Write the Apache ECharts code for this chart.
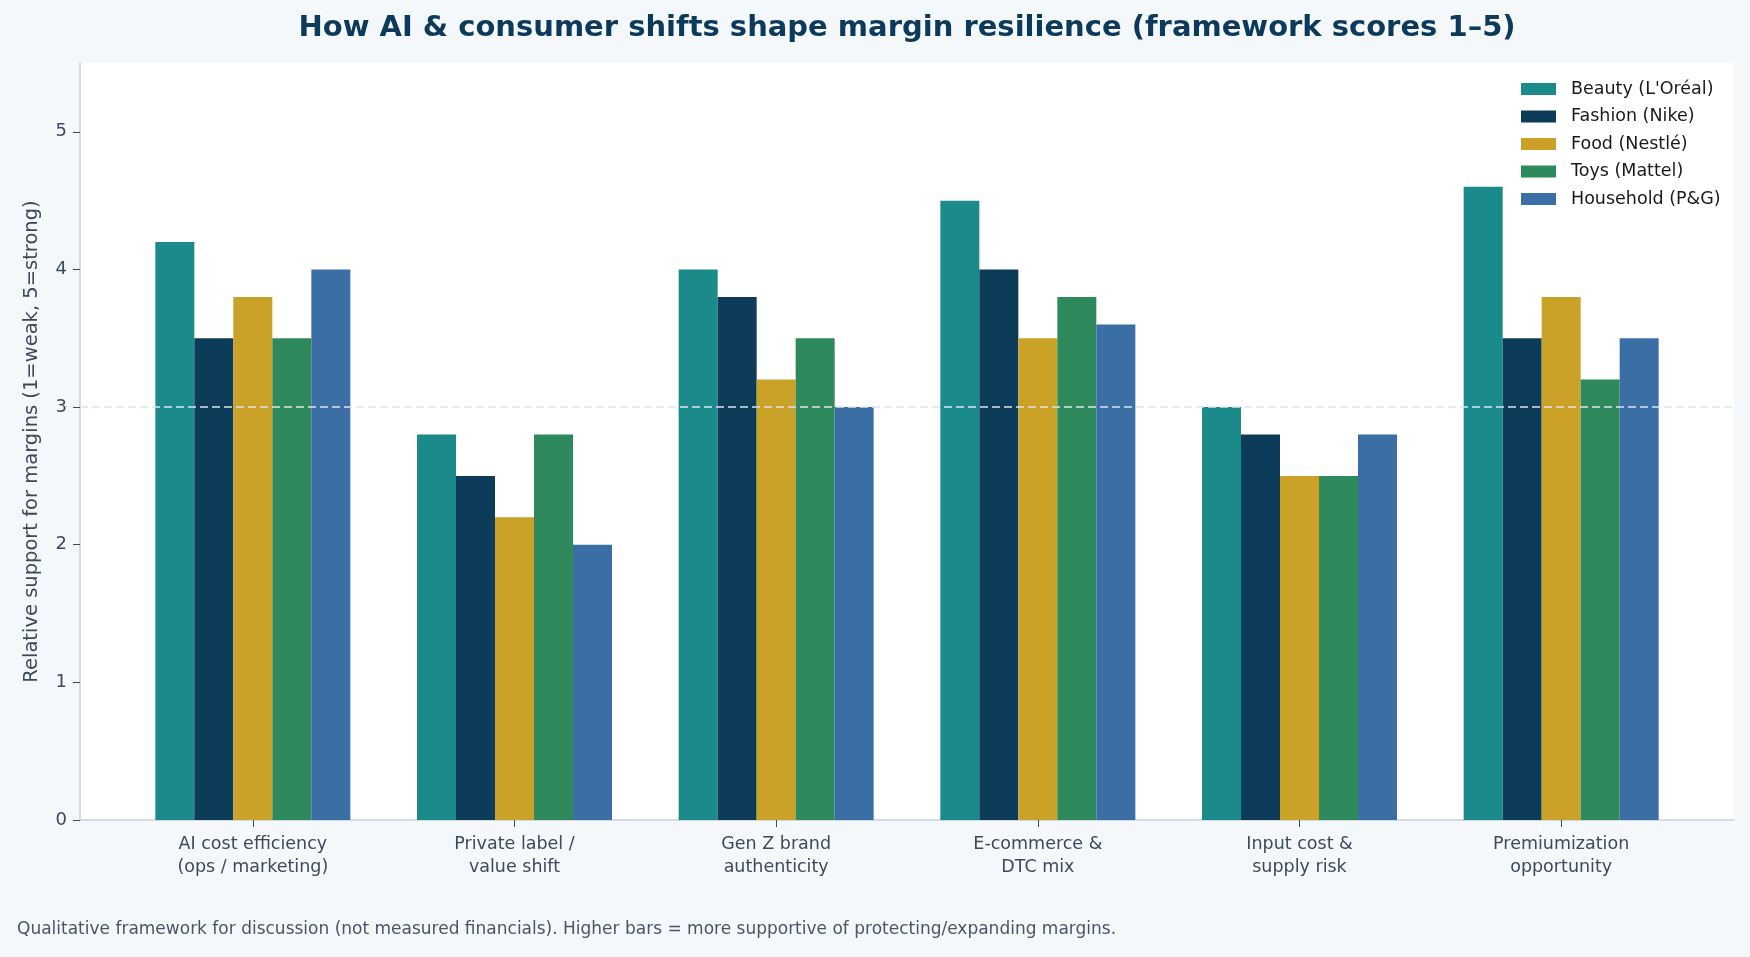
<!DOCTYPE html>
<html>
<head>
<meta charset="UTF-8">
<title>Margin resilience framework</title>
<script src="https://cdn.jsdelivr.net/npm/echarts@6/dist/echarts.min.js"></script>
<style>
html, body { margin: 0; padding: 0; background: #f5f8fb; }
#chart { width: 1750px; height: 957px; }
</style>
</head>
<body>
<div id="chart"></div>
<script>
// categories (x axis), two-line labels
var categories = [
	'AI cost efficiency\n(ops / marketing)',
	'Private label /\nvalue shift',
	'Gen Z brand\nauthenticity',
	'E-commerce &\nDTC mix',
	'Input cost &\nsupply risk',
	'Premiumization\nopportunity'
];
// framework scores per sector
var beauty    = [4.2, 2.8, 4.0, 4.5, 3.0, 4.6];
var fashion   = [3.5, 2.5, 3.8, 4.0, 2.8, 3.5];
var food      = [3.8, 2.2, 3.2, 3.5, 2.5, 3.8];
var toys      = [3.5, 2.8, 3.5, 3.8, 2.5, 3.2];
var household = [4.0, 2.0, 3.0, 3.6, 2.8, 3.5];
var seriesNames = ['Beauty (L\'Oréal)', 'Fashion (Nike)', 'Food (Nestlé)', 'Toys (Mattel)', 'Household (P&G)'];
var yTicks = [0, 1, 2, 3, 4, 5];
var refLine = 3;

var colors = ['#1b8a8a', '#0d3b5a', '#c9a227', '#2e8a5c', '#3a6ea5'];
var txt = '#3d4a5c';
var axisCol = '#c8d2e0';

var chart = echarts.init(document.getElementById('chart'));

var allData = [beauty, fashion, food, toys, household];
var barSeries = [];
for (var i = 0; i < allData.length; i++) {
	barSeries.push({
		name: seriesNames[i],
		type: 'bar',
		xAxisIndex: 1,
		yAxisIndex: 1,
		data: allData[i],
		barWidth: 39,
		barGap: '0%',
		itemStyle: { color: colors[i] },
		z: 2
	});
}

var option = {
	backgroundColor: '#f5f8fb',
	textStyle: { fontFamily: 'DejaVu Sans' },
	animation: false,
	graphic: [
		{
			type: 'text', x: 907, y: 28,
			style: {
				text: 'How AI & consumer shifts shape margin resilience (framework scores 1–5)',
				fontFamily: 'DejaVu Sans', fontSize: 29, fontWeight: 'bold',
				fill: '#0d3a5a', textAlign: 'center', textVerticalAlign: 'middle'
			}
		},
		{
			type: 'text', x: 17, y: 930,
			style: {
				text: 'Qualitative framework for discussion (not measured financials). Higher bars = more supportive of protecting/expanding margins.',
				fontFamily: 'DejaVu Sans', fontSize: 17, fill: '#4a5568',
				textAlign: 'left', textVerticalAlign: 'middle'
			}
		}
	],
	legend: {
		orient: 'vertical',
		left: 1516,
		top: 75,
		itemWidth: 35,
		itemHeight: 12,
		itemGap: 9.5,
		icon: 'rect',
		data: seriesNames,
		textStyle: { fontFamily: 'DejaVu Sans', fontSize: 17.5, lineHeight: 18, color: '#1a1a1a', padding: [0, 0, 0, 10] }
	},
	grid: [
		// background / axes frame
		{ left: 80, right: 16, top: 63, bottom: 137, show: true, backgroundColor: '#ffffff', borderWidth: 0 },
		// bars (matched to matplotlib category padding)
		{ left: 122, right: 58, top: 63, bottom: 137 }
	],
	xAxis: [
		{
			gridIndex: 0, type: 'value', min: 0, max: 1,
			axisLine: { show: true, onZero: false, lineStyle: { color: axisCol, width: 1.5 } },
			axisTick: { show: false }, axisLabel: { show: false }, splitLine: { show: false }
		},
		{
			gridIndex: 1, type: 'category', data: categories,
			axisLine: { show: false },
			axisTick: { show: true, alignWithLabel: true, length: 7, lineStyle: { color: txt } },
			axisLabel: { color: txt, fontSize: 17.5, lineHeight: 23, margin: 13 }
		}
	],
	yAxis: [
		{
			gridIndex: 0, type: 'value', min: 0, max: 5.5,
			name: 'Relative support for margins (1=weak, 5=strong)',
			nameLocation: 'middle', nameGap: 38,
			nameTextStyle: { color: txt, fontSize: 19.5 },
			axisLine: { show: true, lineStyle: { color: axisCol, width: 1.5 } },
			axisTick: { show: true, length: 7, customValues: yTicks, lineStyle: { color: txt } },
			axisLabel: { color: txt, fontSize: 18, margin: 13, customValues: yTicks },
			splitLine: { show: false }
		},
		{
			gridIndex: 1, type: 'value', min: 0, max: 5.5, show: false,
			splitLine: { show: false }
		}
	],
	series: barSeries.concat([
		{
			type: 'line',
			xAxisIndex: 0,
			yAxisIndex: 0,
			data: [],
			z: 10,
			silent: true,
			markLine: {
				symbol: 'none',
				silent: true,
				z: 10,
				label: { show: false },
				lineStyle: { color: '#dde3ec', type: [8, 4], width: 1.6 },
				data: [{ yAxis: refLine }]
			}
		}
	])
};

chart.setOption(option);
</script>
</body>
</html>
